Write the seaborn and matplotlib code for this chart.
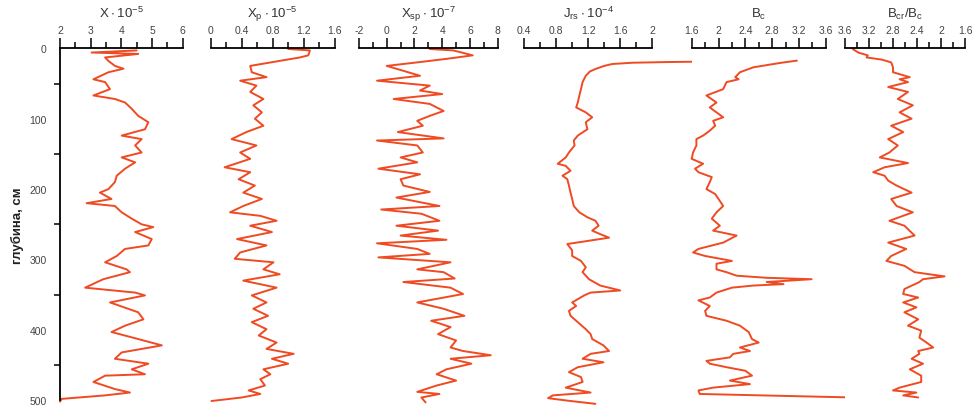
import matplotlib
matplotlib.use("Agg")
import matplotlib.pyplot as plt
import seaborn as sns
from matplotlib.ticker import MultipleLocator, FormatStrFormatter

# ---- data (depth in cm) ----
depth_x = [3, 6, 8, 13, 18, 25, 29, 34, 44, 48, 58, 67, 72, 77, 86, 96, 105, 115, 124, 129,
           138, 148, 155, 162, 171, 181, 190, 200, 205, 214, 220, 224, 233, 242, 250, 254, 261,
           271, 280, 285, 295, 304, 314, 318, 328, 340, 347, 351, 361, 366, 375, 385, 394, 403,
           413, 422, 432, 441, 448, 456, 463, 465, 474, 484, 489, 493, 498, 502]
chi = [4.50, 3.03, 4.55, 3.47, 3.58, 3.79, 4.07, 3.58, 3.09, 3.47, 3.63, 3.09, 3.79, 4.12, 4.34,
       4.55, 4.88, 4.77, 4.01, 4.66, 4.45, 4.66, 4.01, 4.45, 4.12, 3.85, 3.79, 3.58, 3.30, 3.68,
       2.87, 3.79, 4.01, 4.34, 4.66, 5.04, 4.45, 4.99, 4.88, 4.12, 3.85, 3.47, 4.17, 4.28, 3.41,
       2.82, 4.45, 4.77, 3.63, 3.96, 4.55, 4.72, 4.12, 3.68, 4.55, 5.32, 4.01, 3.79, 4.88, 4.34,
       4.77, 3.47, 3.09, 3.79, 4.28, 3.47, 2.05, 2.00]

depth_xp = [1, 3, 10, 13, 25, 34, 41, 46, 53, 62, 72, 81, 91, 100, 110, 119, 129, 138, 148, 157,
            169, 176, 186, 195, 205, 214, 224, 233, 238, 245, 252, 261, 271, 280, 290, 299, 304,
            314, 321, 330, 340, 351, 361, 370, 380, 389, 399, 408, 418, 427, 434, 441, 448, 456,
            463, 470, 479, 486, 491, 496, 501]
chi_p = [1.00, 1.28, 1.26, 1.15, 0.51, 0.53, 0.72, 0.38, 0.59, 0.51, 0.68, 0.55, 0.66, 0.57, 0.68,
         0.46, 0.27, 0.59, 0.38, 0.51, 0.18, 0.51, 0.36, 0.57, 0.42, 0.66, 0.42, 0.25, 0.64, 0.85,
         0.51, 0.79, 0.34, 0.72, 0.38, 0.31, 0.81, 0.68, 0.89, 0.42, 0.85, 0.53, 0.72, 0.55, 0.74,
         0.53, 0.72, 0.62, 0.85, 0.72, 1.07, 0.79, 1.00, 0.68, 0.77, 0.64, 0.70, 0.49, 0.64, 0.40,
         0.01]

depth_xsp = [1, 3, 10, 15, 20, 25, 32, 39, 46, 53, 60, 65, 72, 79, 89, 96, 103, 110, 119, 128,
             131, 138, 148, 155, 162, 171, 179, 186, 195, 204, 212, 224, 229, 235, 245, 252, 259,
             266, 272, 277, 285, 292, 297, 304, 314, 318, 327, 332, 340, 349, 361, 370, 380, 387,
             396, 406, 415, 425, 430, 436, 441, 448, 456, 463, 472, 479, 488, 491, 496, 503]
chi_sp = [3.1, 4.8, 6.2, 4.3, 2.2, 0.0, 1.2, 2.4, -0.7, 3.1, 2.4, 4.0, 0.5, 3.1, 4.1, 3.1, 2.2,
          2.6, 0.8, 4.1, -0.7, 2.2, 2.6, 1.0, 2.2, -0.6, 2.4, 1.0, 1.2, 3.1, 0.7, 3.8, -0.4, 2.5,
          3.8, 0.7, 3.7, 1.0, 4.3, -0.7, 2.2, 3.1, -0.6, 4.6, 2.2, 4.1, 4.9, 1.2, 4.6, 5.5, 2.2,
          4.1, 5.6, 3.2, 4.6, 3.7, 5.0, 4.6, 5.5, 7.5, 4.6, 6.1, 4.3, 3.6, 5.0, 3.6, 2.2, 3.8,
          2.5, 2.8]

depth_jrs = [17.6, 19.5, 20.5, 22.3, 25, 29.4, 33, 39, 48, 58, 67, 77, 84, 91, 98, 105, 115, 124,
             131, 138, 148, 155, 164, 167, 174, 181, 186, 195, 205, 214, 224, 233, 240, 245, 252,
             259, 264, 269, 273, 278, 287, 295, 302, 311, 318, 328, 337, 344, 347, 351, 361, 366,
             373, 380, 389, 399, 406, 413, 422, 430, 434, 441, 446, 453, 460, 467, 474, 482, 489,
             493, 497, 501, 505]
jrs = [3.59, 2.2, 1.75, 1.5, 1.4, 1.29, 1.22, 1.17, 1.13, 1.11, 1.09, 1.07, 1.05, 1.17, 1.25,
       1.17, 1.19, 1.07, 1.02, 1.03, 0.96, 0.92, 0.82, 0.92, 0.98, 0.88, 0.94, 0.96, 0.98, 1.00,
       1.02, 1.09, 1.19, 1.29, 1.33, 1.25, 1.35, 1.46, 1.23, 0.94, 1.00, 1.00, 1.11, 1.17, 1.13,
       1.21, 1.35, 1.60, 1.23, 1.15, 1.00, 1.05, 0.96, 0.98, 1.07, 1.17, 1.23, 1.25, 1.39, 1.46,
       1.23, 1.13, 1.39, 1.07, 0.96, 1.11, 1.13, 0.92, 1.23, 0.76, 0.70, 0.98, 1.29]

depth_bc = [17.5, 20.8, 27, 34, 41, 44, 48, 58, 67, 77, 84, 91, 98, 103, 110, 117, 124, 129, 138,
            148, 157, 164, 171, 176, 183, 190, 200, 207, 214, 224, 233, 242, 252, 259, 266, 276,
            285, 290, 295, 302, 306, 314, 318, 323, 326, 328, 332, 335, 337, 340, 347, 354, 358,
            366, 373, 380, 387, 394, 403, 413, 418, 425, 430, 434, 439, 444, 448, 453, 458, 465,
            472, 477, 482, 486, 491, 496]
bc = [3.17, 2.92, 2.52, 2.32, 2.25, 2.30, 2.12, 2.07, 1.82, 1.97, 1.87, 1.97, 2.07, 1.92, 1.95,
      1.87, 1.77, 1.67, 1.67, 1.62, 1.60, 1.77, 1.65, 1.70, 1.90, 1.87, 1.82, 1.95, 2.00, 2.07,
      1.97, 1.90, 2.02, 1.92, 2.27, 2.07, 1.70, 1.62, 1.80, 2.20, 1.97, 1.97, 2.12, 2.27, 2.72,
      3.39, 2.72, 2.97, 2.52, 2.20, 1.97, 1.87, 1.70, 1.87, 1.80, 1.82, 2.12, 2.32, 2.45, 2.50,
      2.60, 2.32, 2.47, 2.22, 2.17, 1.82, 1.87, 2.12, 2.40, 2.50, 2.17, 2.47, 1.92, 1.70, 1.72,
      4.01]

depth_ratio = [1, 6, 10, 13, 16, 20, 27, 34, 41, 44, 48, 55, 62, 72, 81, 91, 100, 110, 119, 129,
               138, 148, 155, 163, 169, 176, 181, 188, 195, 205, 214, 224, 233, 245, 252, 266,
               276, 285, 295, 302, 309, 318, 324, 328, 332, 342, 349, 354, 361, 368, 375, 385,
               394, 401, 411, 418, 425, 430, 434, 441, 448, 456, 465, 474, 482, 486, 489, 493, 496]
bcr_bc = [3.47, 3.38, 3.22, 3.24, 2.99, 2.83, 2.80, 2.80, 2.52, 2.69, 2.55, 2.88, 2.55, 2.72,
          2.47, 2.69, 2.49, 2.83, 2.63, 2.88, 2.72, 2.86, 3.02, 2.55, 2.94, 3.13, 2.94, 2.88,
          2.74, 2.49, 2.83, 2.74, 2.47, 2.86, 2.61, 2.44, 2.88, 2.58, 2.83, 2.91, 2.61, 2.44,
          1.94, 2.30, 2.36, 2.61, 2.63, 2.38, 2.63, 2.41, 2.61, 2.38, 2.55, 2.33, 2.36, 2.24,
          2.13, 2.38, 2.36, 2.49, 2.30, 2.52, 2.33, 2.33, 2.69, 2.80, 2.41, 2.63, 2.38]

titles = [r"$\mathregular{X\cdot10^{-5}}$", r"$\mathregular{X_{p}\cdot10^{-5}}$",
          r"$\mathregular{X_{sp}\cdot10^{-7}}$", r"$\mathregular{J_{rs}\cdot10^{-4}}$",
          r"$\mathregular{B_{c}}$", r"$\mathregular{B_{cr}/B_{c}}$"]
xlims = [(2, 6), (0, 1.6), (-2, 8), (0.4, 2.0), (1.6, 3.6), (3.6, 1.6)]
major_steps = [1, 0.4, 2, 0.4, 0.4, 0.4]

panels = [(chi, depth_x), (chi_p, depth_xp), (chi_sp, depth_xsp),
          (jrs, depth_jrs), (bc, depth_bc), (bcr_bc, depth_ratio)]

# ---- layout (pixels of the 976x410 figure) ----
W, H = 976, 410
lefts = [60, 210.7, 359, 524, 691.7, 845]
rights = [182.7, 334.7, 497.7, 652.4, 825.7, 965]
top_px, bot_px = 49.3, 401.3

RED = "#EF4A22"

sns.set_style("white")
plt.rcParams['font.family'] = ['Liberation Sans', 'DejaVu Sans']
plt.rcParams['mathtext.fontset'] = 'custom'
plt.rcParams['mathtext.rm'] = 'Liberation Sans'
plt.rcParams['mathtext.default'] = 'regular'

fig = plt.figure(figsize=(W / 100, H / 100), dpi=100)

for i, ((vals, dep), title, xl, step) in enumerate(zip(panels, titles, xlims, major_steps)):
    ax = fig.add_axes([lefts[i] / W, 1 - bot_px / H,
                       (rights[i] - lefts[i]) / W, (bot_px - top_px) / H])
    sns.lineplot(x=vals, y=dep, orient="y", sort=False, estimator=None,
                 color=RED, lw=1.4, ax=ax)
    ax.lines[-1].set_clip_on(False)
    ax.set_xlim(*xl)
    ax.set_ylim(500, 0)

    ax.xaxis.tick_top()
    ax.xaxis.set_label_position("top")
    ax.xaxis.set_major_locator(MultipleLocator(step))
    ax.xaxis.set_minor_locator(MultipleLocator(step / 2))
    ax.xaxis.set_major_formatter(FormatStrFormatter("%g"))
    ax.tick_params(axis="x", which="major", direction="out", length=7, width=1.1,
                   color="black", labelcolor="#444444", labelsize=7.5, pad=2.5)
    ax.tick_params(axis="x", which="minor", direction="out", length=4, width=1.1,
                   color="black")
    ax.set_xlabel(title, fontsize=9.5, color="#333333", labelpad=6)

    for side in ["right", "bottom"]:
        ax.spines[side].set_visible(False)
    ax.spines["top"].set_linewidth(1.3)
    ax.spines["top"].set_color("black")

    if i == 0:
        ax.spines["left"].set_linewidth(1.3)
        ax.spines["left"].set_color("black")
        ax.yaxis.set_major_locator(MultipleLocator(100))
        ax.yaxis.set_minor_locator(MultipleLocator(50))
        ax.tick_params(axis="y", which="major", direction="out", length=7, width=1.1,
                       color="black", labelcolor="#444444", labelsize=7.5, pad=2.5)
        ax.tick_params(axis="y", which="minor", direction="out", length=4, width=1.1,
                       color="black", left=True)
        ax.set_ylabel("глубина, см", fontsize=9.5, fontweight="bold", color="#222222",
                      labelpad=4)
    else:
        ax.spines["left"].set_visible(False)
        ax.set_yticks([])
        ax.set_ylabel("")

fig.savefig("out.png", dpi=100)
